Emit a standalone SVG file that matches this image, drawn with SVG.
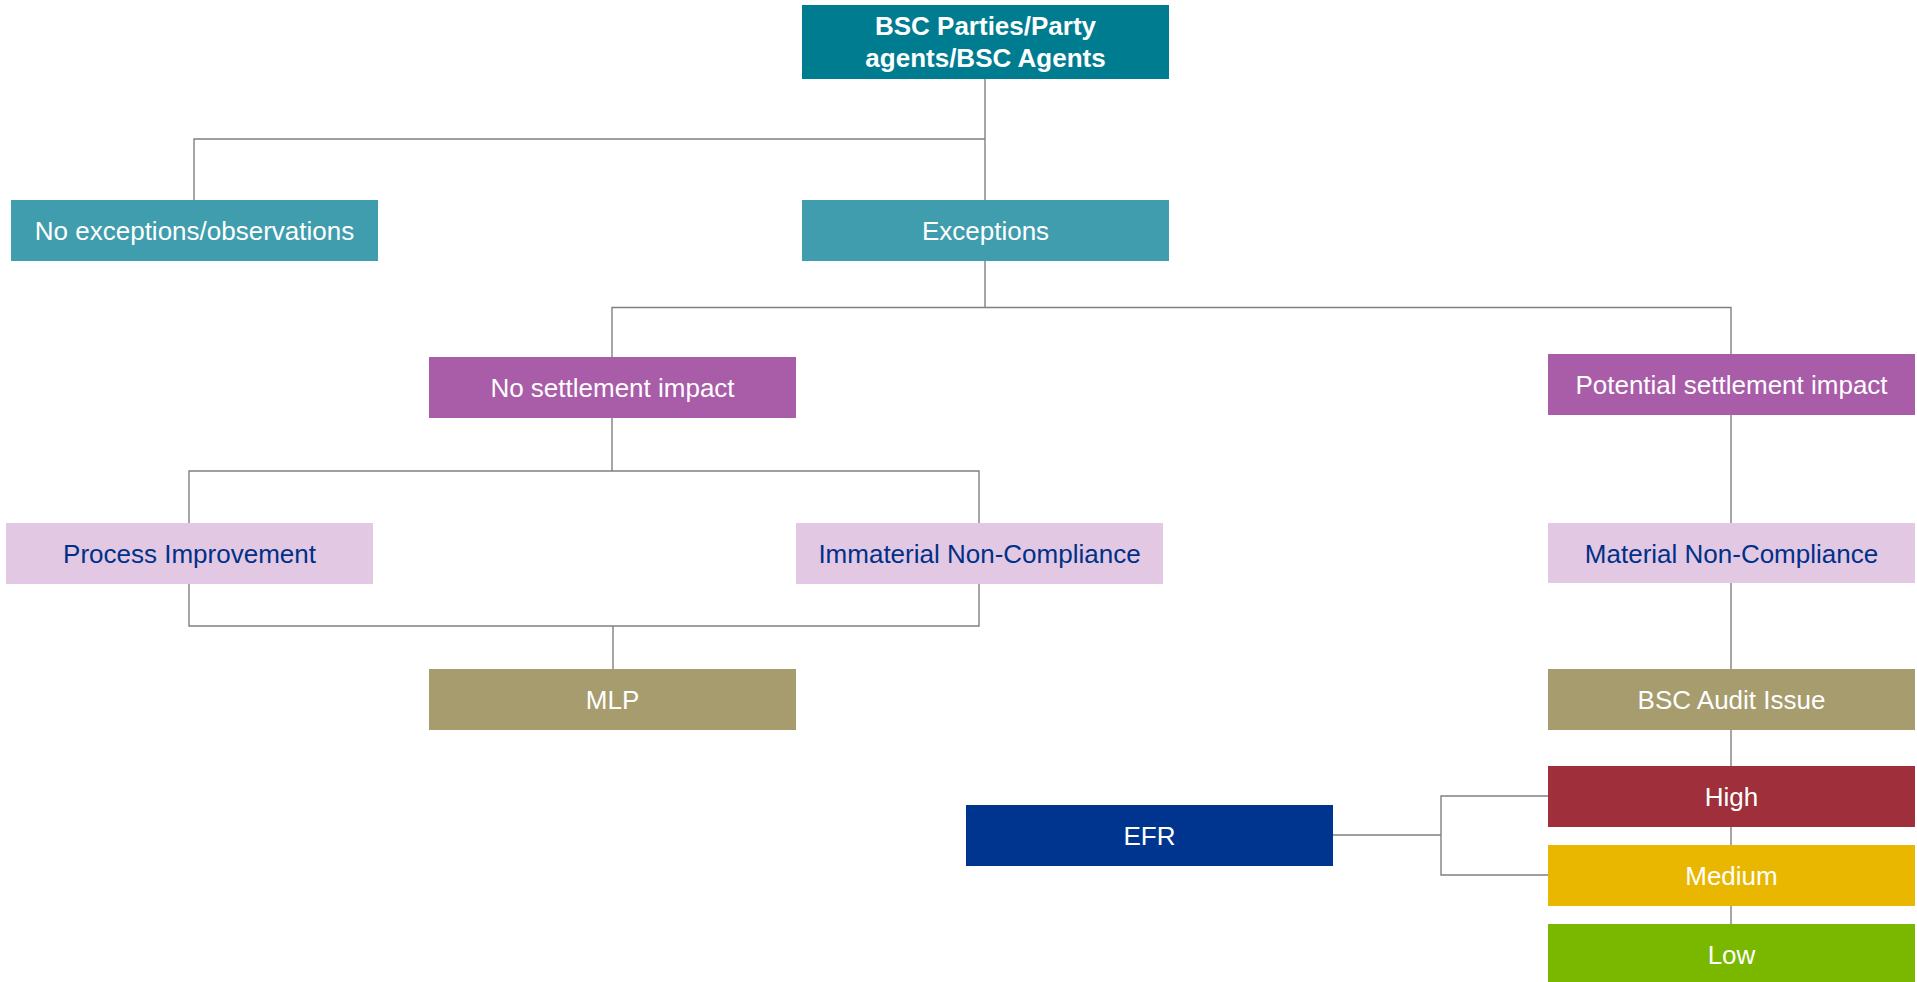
<svg xmlns="http://www.w3.org/2000/svg" width="1917" height="982" viewBox="0 0 1917 982">
<style>
text{font-family:"Liberation Sans",Arial,sans-serif;font-size:26px;text-anchor:middle}
.w{fill:#ffffff}
.b{fill:#003087}
.bold{font-weight:bold}
.conn{fill:none;stroke:#808080;stroke-width:1.4}
</style>
<rect width="1917" height="982" fill="#ffffff"/>
<g id="connectors" class="conn">
<path d="M985,79 V200 M985,139 H194 V200"/>
<path d="M985,261 V307.5 M612,357 V307.5 H1731 V354"/>
<path d="M612,418 V471 M189,523 V471 H979 V523"/>
<path d="M189,584 V626 H979 V584 M613,626 V669"/>
<path d="M1731,415 V523 M1731,583 V669 M1731,730 V924"/>
<path d="M1333,835 H1441 M1548,796 H1441 V875 H1548"/>
</g>
<g id="top"><rect x="802" y="5" width="367" height="74" fill="#007C91"/><text class="w bold" x="985.5" y="35">BSC Parties/Party</text><text class="w bold" x="985.5" y="67">agents/BSC Agents</text></g>
<g id="noexc"><rect x="11" y="200" width="367" height="61" fill="#409DAE"/><text class="w" x="194.5" y="240">No exceptions/observations</text></g>
<g id="exc"><rect x="802" y="200" width="367" height="61" fill="#409DAE"/><text class="w" x="985.5" y="240">Exceptions</text></g>
<g id="nosettle"><rect x="429" y="357" width="367" height="61" fill="#A95CA8"/><text class="w" x="612.5" y="397">No settlement impact</text></g>
<g id="potential"><rect x="1548" y="354" width="367" height="61" fill="#A95CA8"/><text class="w" x="1731.5" y="394">Potential settlement impact</text></g>
<g id="process"><rect x="6" y="523" width="367" height="61" fill="#E3C8E3"/><text class="b" x="189.5" y="563">Process Improvement</text></g>
<g id="immaterial"><rect x="796" y="523" width="367" height="61" fill="#E3C8E3"/><text class="b" x="979.5" y="563">Immaterial Non-Compliance</text></g>
<g id="material"><rect x="1548" y="523" width="367" height="60" fill="#E3C8E3"/><text class="b" x="1731.5" y="563">Material Non-Compliance</text></g>
<g id="mlp"><rect x="429" y="669" width="367" height="61" fill="#A69C6E"/><text class="w" x="612.5" y="709">MLP</text></g>
<g id="audit"><rect x="1548" y="669" width="367" height="61" fill="#A69C6E"/><text class="w" x="1731.5" y="709">BSC Audit Issue</text></g>
<g id="efr"><rect x="966" y="805" width="367" height="61" fill="#00358F"/><text class="w" x="1149.5" y="845">EFR</text></g>
<g id="high"><rect x="1548" y="766" width="367" height="61" fill="#9E2F3B"/><text class="w" x="1731.5" y="806">High</text></g>
<g id="medium"><rect x="1548" y="845" width="367" height="61" fill="#EAB700"/><text class="w" x="1731.5" y="885">Medium</text></g>
<g id="low"><rect x="1548" y="924" width="367" height="61" fill="#7AB800"/><text class="w" x="1731.5" y="964">Low</text></g>
</svg>
